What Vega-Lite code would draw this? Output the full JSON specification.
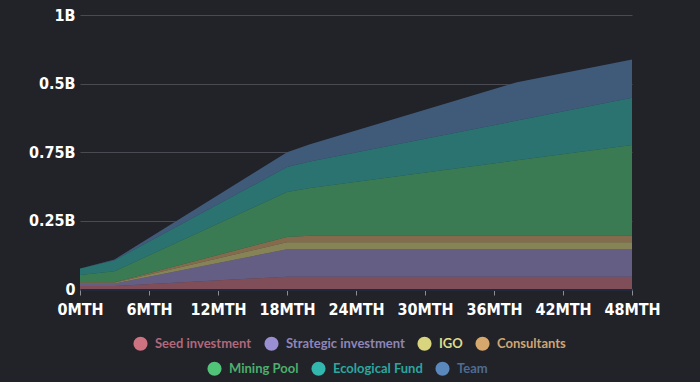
{
  "$schema": "https://vega.github.io/schema/vega-lite/v6.json",
  "width": 552,
  "height": 274,
  "autosize": {"type": "none"},
  "padding": {"left": 80, "top": 15, "right": 68, "bottom": 93},
  "background": "#222229",
  "data": {"values": [
    {"month": 0, "series": "Seed investment", "order": 1, "value": 0.011},
    {"month": 0, "series": "Strategic investment", "order": 2, "value": 0.009},
    {"month": 0, "series": "IGO", "order": 3, "value": 0.003},
    {"month": 0, "series": "Consultants", "order": 4, "value": 0.002},
    {"month": 0, "series": "Mining Pool", "order": 5, "value": 0.026},
    {"month": 0, "series": "Ecological Fund", "order": 6, "value": 0.024},
    {"month": 0, "series": "Team", "order": 7, "value": 0},
    {"month": 3, "series": "Seed investment", "order": 1, "value": 0.011},
    {"month": 3, "series": "Strategic investment", "order": 2, "value": 0.009},
    {"month": 3, "series": "IGO", "order": 3, "value": 0.003},
    {"month": 3, "series": "Consultants", "order": 4, "value": 0.002},
    {"month": 3, "series": "Mining Pool", "order": 5, "value": 0.04},
    {"month": 3, "series": "Ecological Fund", "order": 6, "value": 0.04},
    {"month": 3, "series": "Team", "order": 7, "value": 0.003},
    {"month": 18, "series": "Seed investment", "order": 1, "value": 0.045},
    {"month": 18, "series": "Strategic investment", "order": 2, "value": 0.1},
    {"month": 18, "series": "IGO", "order": 3, "value": 0.026},
    {"month": 18, "series": "Consultants", "order": 4, "value": 0.019},
    {"month": 18, "series": "Mining Pool", "order": 5, "value": 0.164},
    {"month": 18, "series": "Ecological Fund", "order": 6, "value": 0.091},
    {"month": 18, "series": "Team", "order": 7, "value": 0.054},
    {"month": 20, "series": "Seed investment", "order": 1, "value": 0.045},
    {"month": 20, "series": "Strategic investment", "order": 2, "value": 0.1},
    {"month": 20, "series": "IGO", "order": 3, "value": 0.026},
    {"month": 20, "series": "Consultants", "order": 4, "value": 0.023},
    {"month": 20, "series": "Mining Pool", "order": 5, "value": 0.175},
    {"month": 20, "series": "Ecological Fund", "order": 6, "value": 0.096},
    {"month": 20, "series": "Team", "order": 7, "value": 0.063},
    {"month": 38, "series": "Seed investment", "order": 1, "value": 0.045},
    {"month": 38, "series": "Strategic investment", "order": 2, "value": 0.1},
    {"month": 38, "series": "IGO", "order": 3, "value": 0.026},
    {"month": 38, "series": "Consultants", "order": 4, "value": 0.023},
    {"month": 38, "series": "Mining Pool", "order": 5, "value": 0.276},
    {"month": 38, "series": "Ecological Fund", "order": 6, "value": 0.145},
    {"month": 38, "series": "Team", "order": 7, "value": 0.14},
    {"month": 48, "series": "Seed investment", "order": 1, "value": 0.045},
    {"month": 48, "series": "Strategic investment", "order": 2, "value": 0.1},
    {"month": 48, "series": "IGO", "order": 3, "value": 0.026},
    {"month": 48, "series": "Consultants", "order": 4, "value": 0.023},
    {"month": 48, "series": "Mining Pool", "order": 5, "value": 0.332},
    {"month": 48, "series": "Ecological Fund", "order": 6, "value": 0.172},
    {"month": 48, "series": "Team", "order": 7, "value": 0.14}
  ]},
  "transform": [
    {"stack": "value", "groupby": ["month"], "sort": [{"field": "order", "order": "ascending"}], "as": ["y0", "y1"]}
  ],
  "encoding": {
    "x": {
      "field": "month", "type": "quantitative",
      "scale": {"domain": [0, 48], "nice": false},
      "axis": {
        "title": null, "values": [0, 6, 12, 18, 24, 30, 36, 42, 48],
        "labelExpr": "datum.value + 'MTH'",
        "grid": false, "domainColor": "#1f2a3c", "domainWidth": 3,
        "tickColor": "#8c8c94", "tickSize": 6, "tickWidth": 1,
        "labelColor": "#ffffff", "labelFontSize": 16, "labelFontWeight": "bold",
        "labelFont": "Liberation Sans Narrow, DejaVu Sans Condensed, Roboto, sans-serif",
        "labelPadding": 6, "labelFlush": false, "labelOverlap": false
      }
    },
    "y": {
      "field": "y1", "type": "quantitative",
      "scale": {"domain": [0, 1], "nice": false},
      "axis": {
        "title": null, "values": [0, 0.25, 0.5, 0.75, 1],
        "labelExpr": "datum.value == 0 ? '0' : datum.value == 0.25 ? '0.25B' : datum.value == 0.5 ? '0.75B' : datum.value == 0.75 ? '0.5B' : '1B'",
        "domain": false, "ticks": false, "grid": true, "gridColor": "#4a4a52", "gridWidth": 1,
        "labelColor": "#ffffff", "labelFontSize": 16, "labelFontWeight": "bold",
        "labelFont": "Liberation Sans Narrow, DejaVu Sans Condensed, Roboto, sans-serif",
        "labelPadding": 5
      }
    }
  },
  "layer": [
    {
      "transform": [{"filter": "datum.order == 7"}],
      "mark": {"type": "area", "color": "#222229", "opacity": 1},
      "encoding": {"y2": {"datum": 0}}
    },
    {
      "transform": [{"filter": "datum.order <= 4"}],
      "mark": {"type": "area", "opacity": 0.55},
      "encoding": {
        "y2": {"field": "y0"},
        "color": {
          "field": "series", "type": "nominal",
          "scale": {"domain": ["Seed investment", "Strategic investment", "IGO", "Consultants"], "range": ["#cc7280", "#9a8fd2", "#d9d57e", "#d6a86e"]},
          "legend": {
            "title": null, "orient": "none", "legendX": 53, "legendY": 321, "direction": "horizontal",
            "symbolType": "circle", "symbolSize": 200, "symbolStrokeWidth": 0, "symbolOpacity": 1,
            "labelFont": "Lato", "labelFontSize": 13, "labelFontWeight": "bold", "labelOffset": 7,
            "columnPadding": 12, "padding": 0,
            "encode": {
              "labels": {"update": {"fill": {"signal": "datum.value == 'Seed investment' ? '#b0687a' : datum.value == 'Strategic investment' ? '#8e86b8' : datum.value == 'IGO' ? '#dedb8c' : '#d0a672'"}}}
            }
          }
        }
      }
    },
    {
      "transform": [{"filter": "datum.order > 4"}],
      "mark": {"type": "area", "opacity": 0.55},
      "encoding": {
        "y2": {"field": "y0"},
        "color": {
          "field": "series", "type": "nominal",
          "scale": {"domain": ["Mining Pool", "Ecological Fund", "Team"], "range": ["#50c577", "#31b7ad", "#5a88bc"]},
          "legend": {
            "title": null, "orient": "none", "legendX": 127, "legendY": 346, "direction": "horizontal",
            "symbolType": "circle", "symbolSize": 200, "symbolStrokeWidth": 0, "symbolOpacity": 1,
            "labelFont": "Lato", "labelFontSize": 13, "labelFontWeight": "bold", "labelOffset": 7,
            "columnPadding": 12, "padding": 0,
            "encode": {
              "labels": {"update": {"fill": {"signal": "datum.value == 'Mining Pool' ? '#4caf6d' : datum.value == 'Ecological Fund' ? '#2ba7a0' : '#4d6c94'"}}}
            }
          }
        }
      }
    }
  ],
  "resolve": {"scale": {"color": "independent"}},
  "config": {"view": {"stroke": null}}
}
